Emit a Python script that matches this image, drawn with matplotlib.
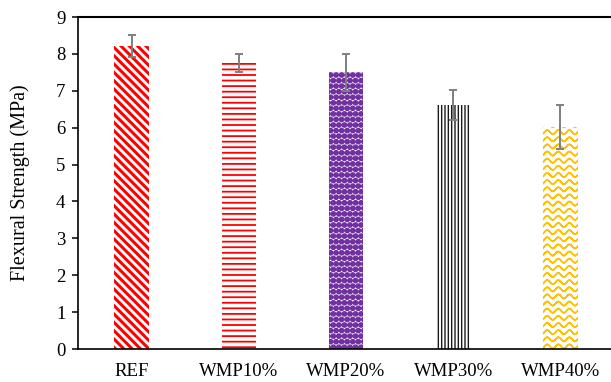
import warnings
import numpy as np
import matplotlib
matplotlib.use("Agg")
import matplotlib.pyplot as plt
import matplotlib.hatch as mhatch
from matplotlib.path import Path

warnings.filterwarnings("ignore")

categories = ["REF", "WMP10%", "WMP20%", "WMP30%", "WMP40%"]
strength = [8.21, 7.75, 7.50, 6.62, 6.01]
strength_sd = [0.30, 0.25, 0.50, 0.40, 0.60]
yticks = [0, 1, 2, 3, 4, 5, 6, 7, 8, 9]

BSL = chr(92)
hatch_colors = ["#FF0000", "#FF0000", "#7030A0", "#1A1A1A", "#FFC000"]
hatches = [BSL * 4, "---", "@@@", "|||||", "~~"]
hatch_widths = [2.2, 1.3, 1.0, 1.0, 1.1]


class WaveHatch(mhatch.HatchPatternBase):
    """Rows of small sine waves, triggered by '~'."""

    periods = 9
    samples = 8

    def __init__(self, hatch, density):
        self.num_rows = hatch.count("~") * 7
        npts = self.periods * self.samples + 1
        self.npts = npts
        self.num_vertices = self.num_rows * npts * 2

    def set_vertices_and_codes(self, vertices, codes):
        npts = self.npts
        x = np.linspace(0.0, 1.0, npts)
        amp = 0.3 / self.num_rows
        for i in range(self.num_rows):
            y0 = (i + 0.5) / self.num_rows
            y = y0 + amp * np.sin(2 * np.pi * self.periods * x)
            seg = np.column_stack([np.concatenate([x, x[::-1]]),
                                   np.concatenate([y, y[::-1]])])
            k = i * npts * 2
            vertices[k:k + 2 * npts] = seg
            codes[k] = Path.MOVETO
            codes[k + 1:k + 2 * npts] = Path.LINETO


class DotHatch(mhatch.HatchPatternBase):
    """Staggered filled discs, triggered by '@'."""

    nside = 12

    def __init__(self, hatch, density):
        n = hatch.count("@") * 6
        self.n = n
        if n == 0:
            self.num_vertices = 0
            return
        self.centers = []
        for i in range(n):
            y = (i + 0.5) / n
            if i % 2 == 0:
                xs = [(j + 0.5) / n for j in range(n)]
            else:
                xs = [j / n for j in range(n + 1)]
            for xc in xs:
                self.centers.append((xc, y))
        self.num_vertices = len(self.centers) * (self.nside + 1)

    def set_vertices_and_codes(self, vertices, codes):
        t = np.linspace(0, 2 * np.pi, self.nside, endpoint=False)
        r = 0.40 / self.n
        m = self.nside + 1
        for idx, (xc, yc) in enumerate(self.centers):
            k = idx * m
            vertices[k:k + self.nside, 0] = xc + r * np.cos(t)
            vertices[k:k + self.nside, 1] = yc + r * np.sin(t)
            vertices[k + self.nside] = vertices[k]
            codes[k] = Path.MOVETO
            codes[k + 1:k + self.nside] = Path.LINETO
            codes[k + self.nside] = Path.CLOSEPOLY


mhatch._hatch_types.append(WaveHatch)
mhatch._hatch_types.append(DotHatch)

plt.rcParams["font.family"] = ["Liberation Serif", "DejaVu Serif"]

fig = plt.figure(figsize=(6.11, 3.82), dpi=100)
ax = fig.add_axes([78 / 611, 1 - 349 / 382, 536 / 611, 332 / 382])

x = np.arange(len(categories))
for i in range(len(categories)):
    with plt.rc_context({"hatch.linewidth": hatch_widths[i]}):
        bar = ax.bar(x[i], strength[i], width=0.32, color="white",
                     edgecolor=hatch_colors[i], linewidth=0,
                     hatch=hatches[i], zorder=2)[0]
    if hasattr(bar, "set_hatch_linewidth"):
        bar.set_hatch_linewidth(hatch_widths[i])

ax.errorbar(x, strength, yerr=strength_sd, fmt="none", ecolor="#7F7F7F",
            elinewidth=1.4, capsize=3, capthick=1.4, zorder=3)

ax.set_xlim(-0.5, 4.5)
ax.set_ylim(0, 9)
ax.set_yticks(yticks)
ax.set_xticks(x)
ax.set_xticklabels(categories, fontsize=13.5)
ax.tick_params(axis="x", length=0, pad=10)
ax.tick_params(axis="y", direction="out", length=4, width=1.1, labelsize=13.5, pad=5)
ax.set_ylabel("Flexural Strength (MPa)", fontsize=14.5, labelpad=19)

ax.spines["right"].set_visible(False)
for s in ("left", "top", "bottom"):
    ax.spines[s].set_linewidth(1.2)
    ax.spines[s].set_color("black")
ax.spines["top"].set_linewidth(1.5)

fig.savefig("out.png", dpi=100)
